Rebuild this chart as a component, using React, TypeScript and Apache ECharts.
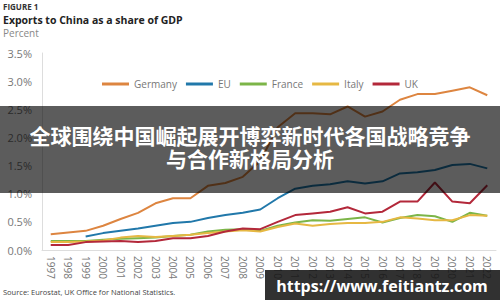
import React, { useEffect, useRef } from "react";
import * as echarts from "echarts";

const years = ["1997","1998","1999","2000","2001","2002","2003","2004","2005","2006","2007","2008","2009","2010","2011","2012","2013","2014","2015","2016","2017","2018","2019","2020","2021","2022"];
const germany = [0.28,0.31,0.34,0.43,0.55,0.66,0.83,0.92,0.92,1.14,1.19,1.30,1.58,2.18,2.43,2.43,2.41,2.55,2.37,2.46,2.67,2.77,2.77,2.83,2.89,2.75];
const eu = [null,null,0.24,0.30,0.34,0.38,0.43,0.48,0.50,0.57,0.62,0.66,0.72,0.92,1.09,1.14,1.17,1.22,1.18,1.22,1.36,1.38,1.42,1.51,1.53,1.45];
const france = [0.16,0.16,0.16,0.18,0.20,0.21,0.22,0.25,0.27,0.33,0.36,0.37,0.34,0.43,0.49,0.53,0.52,0.55,0.58,0.49,0.57,0.62,0.60,0.50,0.66,0.61];
const italy = [0.14,0.14,0.15,0.17,0.22,0.25,0.23,0.25,0.27,0.30,0.33,0.35,0.33,0.41,0.47,0.43,0.46,0.48,0.48,0.50,0.58,0.56,0.53,0.53,0.62,0.61];
const uk = [0.09,0.09,0.14,0.15,0.16,0.14,0.16,0.21,0.21,0.25,0.33,0.38,0.37,0.50,0.62,0.65,0.68,0.76,0.65,0.68,0.86,0.86,1.20,0.86,0.83,1.15];

const seriesNames = ["Germany", "EU", "France", "Italy", "UK"];
const seriesColors = ["#dd8540", "#2178aa", "#7cb548", "#e6b843", "#b3283a"];
const seriesData = [germany, eu, france, italy, uk];

const figureLabel = "FIGURE 1";
const titleText = "Exports to China as a share of GDP";
const unitText = "Percent";
const sourceText = "Source: Eurostat, UK Office for National Statistics.";
const bannerLines = ["全球围绕中国崛起展开博弈新时代各国战略竞争", "与合作新格局分析"];
const watermarkText = "https://www.feitiantz.com";

const FONT = "'Open Sans', 'Noto Sans', sans-serif";

export default function App() {
  const ref = useRef<HTMLDivElement>(null);
  useEffect(() => {
    if (!ref.current) return;
    const chart = echarts.init(ref.current, null, { renderer: "svg" });
    chart.setOption({
      animation: false,
      backgroundColor: "#ffffff",
      textStyle: { fontFamily: FONT },
      grid: { left: 42, right: 4, top: 53, bottom: 50 },
      legend: {
        top: 74,
        left: 97,
        itemWidth: 27,
        itemHeight: 3,
        itemGap: 9,
        icon: "rect",
        textStyle: { color: "#777", fontSize: 10, fontFamily: FONT },
        data: seriesNames,
      },
      xAxis: {
        type: "category",
        data: years,
        boundaryGap: true,
        axisLine: { lineStyle: { color: "#dddddd", width: 1 } },
        axisTick: { show: false },
        axisLabel: {
          rotate: -90,
          color: "#777",
          fontSize: 10,
          margin: 6,
          interval: 0,
          fontFamily: FONT,
        },
      },
      yAxis: {
        type: "value",
        min: 0,
        max: 3.5,
        interval: 0.5,
        axisLine: { show: true, lineStyle: { color: "#dddddd", width: 1 } },
        axisTick: { show: false },
        splitLine: { show: false },
        axisLabel: {
          color: "#777",
          fontSize: 11,
          margin: 10,
          fontFamily: FONT,
          formatter: (v: number) => v.toFixed(1) + "%",
        },
      },
      series: seriesNames.map((name, i) => ({
        name,
        type: "line",
        data: seriesData[i],
        showSymbol: false,
        symbol: "none",
        lineStyle: { color: seriesColors[i], width: 2 },
        itemStyle: { color: seriesColors[i] },
      })),
      graphic: [
        {
          type: "text",
          left: 3,
          top: 2,
          style: { text: figureLabel, fill: "#333", font: `bold 8px ${FONT}` },
        },
        {
          type: "text",
          left: 3,
          top: 14,
          style: { text: titleText, fill: "#222", font: `bold 10.5px ${FONT}` },
        },
        {
          type: "text",
          left: 3,
          top: 28,
          style: { text: unitText, fill: "#888", font: `10px ${FONT}` },
        },
        {
          type: "text",
          left: 3,
          top: 288,
          style: { text: sourceText, fill: "#444", font: `7.5px ${FONT}` },
        },
        {
          type: "rect",
          z: 100,
          shape: { x: 0, y: 106, width: 500, height: 87 },
          style: { fill: "rgba(0,0,0,0.64)" },
        },
        {
          type: "text",
          z: 101,
          x: 250,
          y: 146,
          style: {
            text: bannerLines.join("\n"),
            fill: "#ffffff",
            font: "bold 21px 'Noto Sans CJK SC', sans-serif",
            lineHeight: 23,
            align: "center",
            verticalAlign: "middle",
          },
        },
        {
          type: "rect",
          z: 100,
          shape: { x: 265, y: 270, width: 235, height: 30 },
          style: { fill: "rgba(20,20,20,0.88)" },
        },
        {
          type: "text",
          z: 101,
          x: 382,
          y: 286,
          style: {
            text: watermarkText,
            fill: "#ffffff",
            font: `bold 16px ${FONT}`,
            align: "center",
            verticalAlign: "middle",
          },
        },
      ],
    });
    return () => chart.dispose();
  }, []);
  return (
    <div
      ref={ref}
      style={{ position: "fixed", left: 0, top: 0, width: 500, height: 300 }}
    />
  );
}
